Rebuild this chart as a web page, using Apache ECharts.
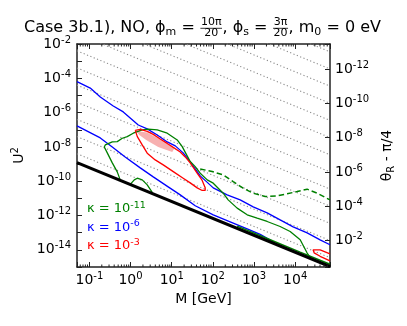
<!DOCTYPE html>
<html>
<head>
<meta charset="utf-8">
<script src="https://cdn.jsdelivr.net/npm/echarts@6/dist/echarts.min.js"></script>
<style>
html, body { margin: 0; padding: 0; background: #fff; }
#main { width: 407px; height: 326px; }
</style>
</head>
<body>
<div id="main"></div>
<script>
var FONT = '"DejaVu Sans", sans-serif';

// axis ranges: M [GeV], U^2, and the right axis (exponent of theta_R - pi/4, top -> bottom)
var mRange = [0.05, 7e4];
var u2Range = [1e-15, 1e-2];
var thetaExpRange = [-13.46, -0.46];

// tick labels (exponents)
var xTickExp = [-1, 0, 1, 2, 3, 4];
var yTickExp = [-14, -12, -10, -8, -6, -4, -2];
var thetaTickExp = [-12, -10, -8, -6, -4, -2];
var minorSubs = [2, 3, 4, 5, 6, 7, 8, 9];

// seesaw line (black)
var seesaw = [[0.05, 1.23e-9], [7e4, 1.07e-15]];

// dotted lines of constant theta_R - pi/4 (U^2 at M = 0.05 and at M = 7e4)
var dotAtMmin = [4e-9, 4e-8, 4e-7, 4e-6, 4e-5, 4e-4, 4e-3, 4e-2, 0.4, 4, 40, 400, 4000];
var dotAtMmax = [3.5e-15, 3.5e-14, 3.5e-13, 3.5e-12, 3.5e-11, 3.5e-10, 3.5e-9, 3.5e-8, 3.5e-7, 3.5e-6, 3.5e-5, 3.5e-4, 3.5e-3];

// kappa = 1e-6 (blue)
var blueUpper = [[0.05, 6.4e-5], [0.105, 2.7e-5], [0.184, 8.2e-6], [0.38, 2.45e-6], [0.665, 1.1e-6],
  [0.98, 4.9e-7], [1.54, 1.9e-7], [2.54, 1.12e-7], [4.45, 5.0e-8], [7.78, 1.96e-8], [12.2, 1.15e-8],
  [19.0, 4.5e-9], [28.1, 1.34e-9], [49.2, 2.05e-10], [102, 4.1e-11], [222, 1.6e-11], [460, 8.2e-12],
  [953, 3.2e-12], [2080, 1.44e-12], [4300, 5.6e-13], [8900, 2.2e-13], [19500, 9.8e-14],
  [40300, 3.85e-14], [70000, 1.97e-14]];
var blueLower = [[0.05, 1.67e-7], [0.184, 3.35e-8], [0.36, 1.0e-8], [0.74, 2.6e-9], [1.72, 6.0e-10],
  [3.56, 1.8e-10], [8.2, 4.7e-11], [16.1, 1.6e-11], [37.2, 3.7e-12], [102, 1.1e-12], [263, 4.3e-13],
  [681, 1.68e-13], [1410, 8.0e-14], [3250, 2.6e-14]];

// kappa = 1e-11 (green)
var greenLoop = [[0.56, 1.2e-10], [0.475, 3.5e-10], [0.36, 1.17e-9], [0.272, 4.5e-9], [0.23, 1.0e-8],
  [0.243, 1.31e-8], [0.36, 1.96e-8], [0.475, 2.04e-8], [0.63, 3.2e-8], [0.83, 4.0e-8], [1.16, 6.3e-8],
  [1.92, 9.8e-8], [2.69, 1.08e-7], [4.45, 9.8e-8], [7.78, 6.3e-8], [13.6, 2.56e-8], [18.0, 1.04e-8],
  [28.1, 1.4e-9], [37.2, 7.1e-10], [49.2, 2.95e-10], [72.8, 1.2e-10], [102, 7.7e-11], [178, 2.0e-11],
  [235, 8.2e-12], [389, 2.7e-12], [681, 1.1e-12], [1190, 7.0e-13], [2080, 4.5e-13], [4300, 2.3e-13],
  [7530, 1.17e-13], [13200, 3.85e-14], [19500, 6.5e-15], [23000, 3.7e-15]];
var greenEdge = [[389, 2.4e-13], [2460, 3.9e-14], [13200, 7.4e-15], [70000, 1.44e-15]];
var greenBump = [[0.98, 6.5e-11], [1.23, 1.2e-10], [1.46, 1.5e-10], [1.92, 1.2e-10], [2.54, 6.1e-11], [3.36, 2.25e-11]];
var greenDashed = [[49.2, 5.2e-10], [96, 3.65e-10], [178, 2.35e-10], [311, 9.5e-11], [544, 3.9e-11],
  [953, 2.0e-11], [1860, 1.28e-11], [3640, 1.4e-11], [6370, 1.84e-11], [11100, 2.5e-11],
  [19500, 3.45e-11], [34100, 2.0e-11], [70000, 8.2e-12]];

// kappa = 1e-3 (red)
var redLoop = [[1.30, 9.2e-8], [1.72, 1.05e-7], [2.54, 8.0e-8], [3.56, 5.4e-8], [5.26, 2.9e-8],
  [7.78, 1.6e-8], [10.9, 9.4e-9], [16.1, 5.1e-9], [21.3, 2.6e-9], [28.1, 1.17e-9], [41, 3.07e-10],
  [54, 1.2e-10], [65, 4.1e-11], [65, 2.9e-11], [55, 2.9e-11], [41.6, 4.1e-11], [28.1, 8.0e-11],
  [19.0, 1.5e-10], [10.9, 3.65e-10], [6.22, 9.0e-10], [3.97, 1.75e-9], [2.54, 4.3e-9], [1.92, 1.31e-8],
  [1.46, 4.0e-8], [1.30, 9.2e-8]];
var redFill = [[1.37, 8.6e-8], [2.54, 7.0e-8], [5.26, 2.74e-8], [11.5, 8.2e-9], [10.3, 5.1e-9],
  [4.7, 1.0e-8], [2.4, 2.56e-8], [1.63, 5.0e-8]];
var redSmall = [[70000, 5.9e-15], [40300, 1.0e-14], [27200, 1.0e-14], [28800, 6.7e-15], [40300, 4.2e-15], [70000, 2.3e-15]];

function lg(p) { return [Math.log10(p[0]), Math.log10(p[1])]; }
function toLog(arr) { return arr.map(lg); }
function isTick(v, list) {
  var r = Math.round(v);
  return Math.abs(v - r) < 1e-6 && list.indexOf(r) >= 0 ? r : null;
}
function pow10(e) { return '{b|10}{s|' + e + '}'; }

var lx = [Math.log10(mRange[0]), Math.log10(mRange[1])];
var ly = [Math.log10(u2Range[0]), Math.log10(u2Range[1])];

var richTick = {
  b: { fontSize: 14, fontFamily: FONT, color: '#000', lineHeight: 18 },
  s: { fontSize: 10, fontFamily: FONT, color: '#000', lineHeight: 10, verticalAlign: 'top' },
  d: { fontSize: 10, fontFamily: FONT, color: '#000', lineHeight: 10, verticalAlign: 'bottom' }
};
var spine = { show: true, onZero: false, lineStyle: { color: '#222', width: 1.5 } };
var tick = { show: true, inside: true, length: 5, lineStyle: { color: '#222', width: 1 } };

var minorTickData = [];
for (var k = -2; k <= 4; k++) {
  minorSubs.forEach(function (s) {
    var m = s * Math.pow(10, k);
    if (m > mRange[0] && m < mRange[1]) minorTickData.push([Math.log10(m), ly[0]]);
  });
}

function line(data, color, width, type, z) {
  return {
    type: 'line', data: toLog(data), showSymbol: false, symbol: 'none', silent: true,
    lineStyle: { color: color, width: width, type: type || 'solid' }, z: z || 2
  };
}

var series = [];
dotAtMmin.forEach(function (u, i) {
  series.push(line([[mRange[0], u], [mRange[1], dotAtMmax[i]]], '#8c8c8c', 1.1, [1.2, 2.4], 1));
});
series.push({
  type: 'custom', silent: true, z: 2, data: [[0, 0]], clip: true,
  renderItem: function (params, api) {
    var pts = redFill.map(function (p) { return api.coord(lg(p)); });
    return { type: 'polygon', shape: { points: pts }, style: { fill: '#f7b0b0' } };
  }
});
series.push(line(blueUpper, '#0000ff', 1.3));
series.push(line(blueLower, '#0000ff', 1.3));
series.push(line(greenDashed, '#008000', 1.5, [5.5, 3]));
series.push(line(greenLoop, '#008000', 1.3));
series.push(line(greenEdge, '#008000', 1.5));
series.push(line(greenBump, '#008000', 1.3));
series.push(line(redLoop, '#ff0000', 1.3));
series.push(line(redSmall, '#ff0000', 1.3));
series.push(line(seesaw, '#000', 3, 'solid', 3));
series.push({
  type: 'custom', silent: true, z: 5, data: minorTickData, clip: false,
  renderItem: function (params, api) {
    var b = api.coord([api.value(0), ly[0]]);
    var t = api.coord([api.value(0), ly[1]]);
    return { type: 'group', children: [
      { type: 'line', shape: { x1: b[0], y1: b[1], x2: b[0], y2: b[1] - 2.5 }, style: { stroke: '#222', lineWidth: 1 } },
      { type: 'line', shape: { x1: t[0], y1: t[1], x2: t[0], y2: t[1] + 2.5 }, style: { stroke: '#222', lineWidth: 1 } }
    ] };
  }
});

// title with stacked fractions
var ctx = document.createElement('canvas').getContext('2d');
function tw(t, size) { ctx.font = size + 'px ' + FONT; return ctx.measureText(t).width; }
var titleParts = [
  { t: 'Case 3b.1), NO, ϕ' }, { t: 'm', sub: true }, { t: ' = ' }, { num: '10π', den: '20' },
  { t: ', ϕ' }, { t: 's', sub: true }, { t: ' = ' }, { num: '3π', den: '20' },
  { t: ', m' }, { t: '0', sub: true }, { t: ' = 0 eV' }
];
var TS = 16, SS = 11;
var widths = titleParts.map(function (p) {
  if (p.num) return Math.max(tw(p.num, SS), tw(p.den, SS)) + 2;
  return tw(p.t, p.sub ? SS : TS);
});
var totalW = widths.reduce(function (a, b) { return a + b; }, 0);
var cx = 202.5 - totalW / 2;
var graphics = [];
titleParts.forEach(function (p, i) {
  var w = widths[i];
  if (p.num) {
    graphics.push({ type: 'text', x: cx + w / 2, y: 22, style: { text: p.num, fontSize: SS, fontFamily: FONT, fill: '#000', align: 'center', verticalAlign: 'middle' } });
    graphics.push({ type: 'text', x: cx + w / 2, y: 33.5, style: { text: p.den, fontSize: SS, fontFamily: FONT, fill: '#000', align: 'center', verticalAlign: 'middle' } });
    graphics.push({ type: 'line', shape: { x1: cx + 0.5, y1: 28.3, x2: cx + w - 0.5, y2: 28.3 }, style: { stroke: '#000', lineWidth: 0.8 } });
  } else {
    graphics.push({ type: 'text', x: cx, y: p.sub ? 32.2 : 27.6, style: { text: p.t, fontSize: p.sub ? SS : TS, fontFamily: FONT, fill: '#000', align: 'left', verticalAlign: 'middle' } });
  }
  cx += w;
});

// kappa labels
var kappaLabels = ['-11', '-6', '-3'];
var kappaColors = ['#008000', '#0000ff', '#ff0000'];
var kappaY = [209, 227.5, 246];
kappaLabels.forEach(function (e, i) {
  graphics.push({
    type: 'text', x: 87, y: kappaY[i],
    style: {
      text: '{k|κ = 10}{s|' + e + '}', fill: kappaColors[i], verticalAlign: 'middle',
      rich: {
        k: { fontSize: 13, fontFamily: FONT, lineHeight: 17 },
        s: { fontSize: 9.5, fontFamily: FONT, lineHeight: 10, verticalAlign: 'top' }
      }
    }
  });
});

var chart = echarts.init(document.getElementById('main'));
chart.setOption({
  animation: false,
  grid: { left: 77, right: 77, top: 44, bottom: 59, outerBoundsMode: 'none' },
  xAxis: [{
    type: 'value', min: lx[0], max: lx[1], position: 'bottom',
    axisLine: spine, axisTick: tick, splitLine: { show: false },
    axisLabel: {
      margin: 4, rich: richTick,
      formatter: function (v) { var r = isTick(v, xTickExp); return r === null ? '' : pow10(r); }
    },
    name: 'M [GeV]', nameLocation: 'middle', nameGap: 22,
    nameTextStyle: { fontSize: 14, fontFamily: FONT, color: '#000' }
  }, {
    type: 'value', min: lx[0], max: lx[1], position: 'top',
    axisLine: spine, axisTick: tick, splitLine: { show: false }, axisLabel: { show: false }
  }],
  yAxis: [{
    type: 'value', min: ly[0], max: ly[1], interval: 1, position: 'left',
    axisLine: spine, axisTick: tick, splitLine: { show: false },
    axisLabel: {
      margin: 6, rich: richTick,
      formatter: function (v) { var r = isTick(v, yTickExp); return r === null ? '' : pow10(r); }
    },
    name: '{b|U}{s|2}', nameLocation: 'middle', nameGap: 43, nameRotate: 90,
    nameTextStyle: { rich: richTick }
  }, {
    type: 'value', min: thetaExpRange[0], max: thetaExpRange[1], inverse: true, splitNumber: 6, position: 'right',
    axisLine: spine, axisTick: tick, splitLine: { show: false },
    axisLabel: {
      margin: 5, rich: richTick,
      formatter: function (v) { var r = isTick(v, thetaTickExp); return r === null ? '' : pow10(r); }
    },
    name: '{b|θ}{d|R}{b| - π/4}', nameLocation: 'middle', nameGap: 42, nameRotate: 90,
    nameTextStyle: { rich: richTick }
  }],
  series: series,
  graphic: graphics
});
</script>
</body>
</html>
